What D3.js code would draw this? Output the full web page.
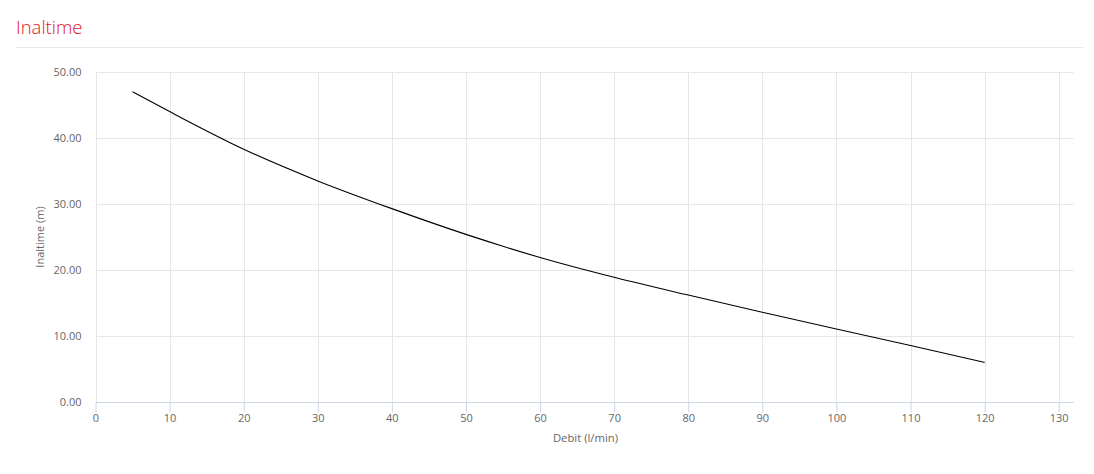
<!DOCTYPE html>
<html><head><meta charset="utf-8">
<script src="https://cdn.jsdelivr.net/npm/d3@7"></script>
<style>
body{margin:0;background:#fff;font-family:"Open Sans",sans-serif;}
</style></head>
<body><svg id="c" width="1094" height="474"></svg>
<script>
const flowValues = [5, 10, 20, 30, 40, 50, 60, 70, 80, 90, 100, 110, 120];
const headValues = [47.0, 44.0, 38.3, 33.5, 29.3, 25.4, 21.9, 18.9, 16.2, 13.6, 11.05, 8.55, 6.0];
const xTicks = [0, 10, 20, 30, 40, 50, 60, 70, 80, 90, 100, 110, 120, 130];
const yTicks = [0, 10, 20, 30, 40, 50];
const chartTitle = "Inaltime";
const xTitle = "Debit (l/min)";
const yTitle = "Inaltime (m)";

(function () {
const svg = d3.select("#c");
const pL = 95.5, pR = 1073.5, pT = 72, pB = 402;
const x = d3.scaleLinear().domain([0, 132]).range([pL, pR]);
const y = d3.scaleLinear().domain([0, 50]).range([pB, pT]);

svg.append("text").attr("x", 16).attr("y", 34).text(chartTitle)
  .attr("fill", "#e0161e").attr("font-size", 18.5).attr("font-weight", 300)
  .attr("font-family", "Open Sans");
svg.append("line").attr("x1", 16).attr("x2", 1083).attr("y1", 47.5).attr("y2", 47.5)
  .attr("stroke", "#e6e6e6");

svg.append("g").selectAll("line").data(yTicks.filter(d => d > 0)).join("line")
  .attr("x1", pL).attr("x2", pR)
  .attr("y1", d => Math.round(y(d)) + 0.5).attr("y2", d => Math.round(y(d)) + 0.5)
  .attr("stroke", "#e6e6e6");
svg.append("g").selectAll("line").data(xTicks).join("line")
  .attr("x1", d => Math.round(x(d)) + 0.5).attr("x2", d => Math.round(x(d)) + 0.5)
  .attr("y1", pT).attr("y2", pB)
  .attr("stroke", "#e6e6e6");

const xa = svg.append("g").attr("transform", `translate(0,${pB + 0.5})`)
  .call(d3.axisBottom(x).tickValues(xTicks).tickSize(10).tickPadding(2).tickFormat(d3.format("d")));
xa.select(".domain").attr("stroke", "#ccd6eb").attr("d", `M${pL},0H${pR}`);
xa.selectAll(".tick line").attr("stroke", "#ccd6eb");
xa.selectAll(".tick text").attr("fill", "#666").attr("font-size", 11).attr("font-family", "Open Sans");

const ya = svg.append("g").attr("transform", `translate(${pL},0)`)
  .call(d3.axisLeft(y).tickValues(yTicks).tickSize(0).tickPadding(14).tickFormat(d3.format(".2f")));
ya.select(".domain").remove();
ya.selectAll(".tick text").attr("fill", "#666").attr("font-size", 11).attr("font-family", "Open Sans");

svg.append("text").attr("x", 585.5).attr("y", 442).attr("text-anchor", "middle")
  .attr("fill", "#666").attr("font-size", 11.3).attr("font-family", "Open Sans").text(xTitle);
svg.append("text").attr("transform", `translate(43.5,${(pT + pB) / 2}) rotate(-90)`)
  .attr("text-anchor", "middle").attr("fill", "#666").attr("font-size", 11)
  .attr("font-family", "Open Sans").text(yTitle);

const pts = flowValues.map((f, i) => [f, headValues[i]]);
svg.append("path").datum(pts)
  .attr("d", d3.line().x(d => x(d[0])).y(d => y(d[1])).curve(d3.curveMonotoneX))
  .attr("fill", "none").attr("stroke", "#000").attr("stroke-width", 1.1);
})();
</script></body></html>
